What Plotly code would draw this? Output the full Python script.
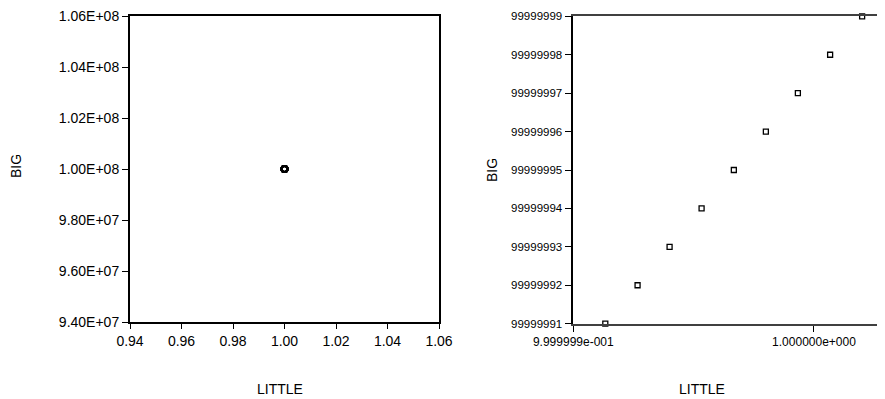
import plotly.graph_objects as go

# Data
LITTLE = [0.9999999133, 0.9999999267, 0.9999999400, 0.9999999533, 0.9999999667,
          0.9999999800, 0.9999999933, 1.0000000067, 1.0000000200]
BIG = [99999991, 99999992, 99999993, 99999994, 99999995,
       99999996, 99999997, 99999998, 99999999]

# Tick labels
LEFT_X_TICKS = [0.94, 0.96, 0.98, 1.00, 1.02, 1.04, 1.06]
LEFT_Y_TICKS = [9.4e7, 9.6e7, 9.8e7, 1.0e8, 1.02e8, 1.04e8, 1.06e8]
LEFT_Y_TEXT = ["9.40E+07", "9.60E+07", "9.80E+07", "1.00E+08", "1.02E+08", "1.04E+08", "1.06E+08"]
RIGHT_X_TICKS = [0.9999999, 1.0]
RIGHT_X_TEXT = ["9.999999e-001", "1.000000e+000"]

FONT = "Liberation Sans, Arial, sans-serif"
# page body has an 8px margin; size the figure to fit the visible window
OFF = 8
W, H = 885 - OFF, 399 - OFF

fig = go.Figure()

# Left panel: same data at a coarse scale (all points coincide)
fig.add_trace(go.Scatter(
    x=LITTLE, y=BIG, mode="markers", xaxis="x", yaxis="y",
    marker=dict(symbol="circle-open", size=6, color="black", line=dict(width=2, color="black")),
    showlegend=False, hoverinfo="x+y"))

# Right panel: fine scale
fig.add_trace(go.Scatter(
    x=LITTLE, y=BIG, mode="markers", xaxis="x2", yaxis="y2", cliponaxis=False,
    marker=dict(symbol="square", size=5, color="white", line=dict(width=1.3, color="black")),
    showlegend=False, hoverinfo="x+y"))

def px_x(p):
    return (p - OFF) / W

def px_y(p):
    return 1 - (p - OFF) / H

fig.update_layout(
    width=W, height=H, autosize=False,
    margin=dict(l=0, r=0, t=0, b=0, pad=0),
    paper_bgcolor="white", plot_bgcolor="white",
    font=dict(family=FONT, color="black"),
    xaxis=dict(
        domain=[px_x(130), px_x(439)], anchor="y", automargin=False,
        range=[0.94, 1.06], tickvals=LEFT_X_TICKS, tickformat=".2f",
        showline=True, linecolor="black", linewidth=2, mirror=True,
        ticks="outside", ticklen=5, tickwidth=1, tickcolor="black",
        ticklabeloverflow="allow",
        showgrid=False, zeroline=False, tickfont=dict(size=14, family=FONT)),
    yaxis=dict(
        domain=[px_y(322), px_y(16)], anchor="x", automargin=False,
        range=[9.4e7, 1.06e8], tickvals=LEFT_Y_TICKS, ticktext=LEFT_Y_TEXT,
        showline=True, linecolor="black", linewidth=2, mirror=True,
        ticks="outside", ticklen=6, tickwidth=1, tickcolor="black",
        ticklabeloverflow="allow",
        showgrid=False, zeroline=False, tickfont=dict(size=14, family=FONT)),
    xaxis2=dict(
        domain=[px_x(573.3), 1.0], anchor="y2", automargin=False,
        range=[0.9999999, 1.0000000295], tickvals=RIGHT_X_TICKS, ticktext=RIGHT_X_TEXT,
        showline=True, linecolor="#404040", linewidth=2, mirror=True,
        ticks="outside", ticklen=6, tickwidth=1, tickcolor="black",
        ticklabeloverflow="allow",
        showgrid=False, zeroline=False, tickfont=dict(size=12, family=FONT)),
    yaxis2=dict(
        domain=[px_y(323.7), px_y(16.3)], anchor="x2", automargin=False,
        range=[min(BIG), max(BIG)], tickvals=BIG, tickformat="d",
        showline=True, linecolor="black", linewidth=1.5, mirror=False,
        ticks="outside", ticklen=7, tickwidth=1, tickcolor="black",
        ticklabeloverflow="allow",
        showgrid=False, zeroline=False, tickfont=dict(size=11.5, family=FONT)),
    annotations=[
        dict(text="LITTLE", x=px_x(280), y=px_y(389), xref="paper", yref="paper",
             showarrow=False, font=dict(size=14, family=FONT), xanchor="center", yanchor="middle"),
        dict(text="LITTLE", x=px_x(702), y=px_y(389), xref="paper", yref="paper",
             showarrow=False, font=dict(size=14, family=FONT), xanchor="center", yanchor="middle"),
        dict(text="BIG", x=px_x(16), y=px_y(166), xref="paper", yref="paper", textangle=-90,
             showarrow=False, font=dict(size=14, family=FONT), xanchor="center", yanchor="middle"),
        dict(text="BIG", x=px_x(492), y=px_y(170), xref="paper", yref="paper", textangle=-90,
             showarrow=False, font=dict(size=14, family=FONT), xanchor="center", yanchor="middle"),
    ],
)

fig.write_html("out.html")
